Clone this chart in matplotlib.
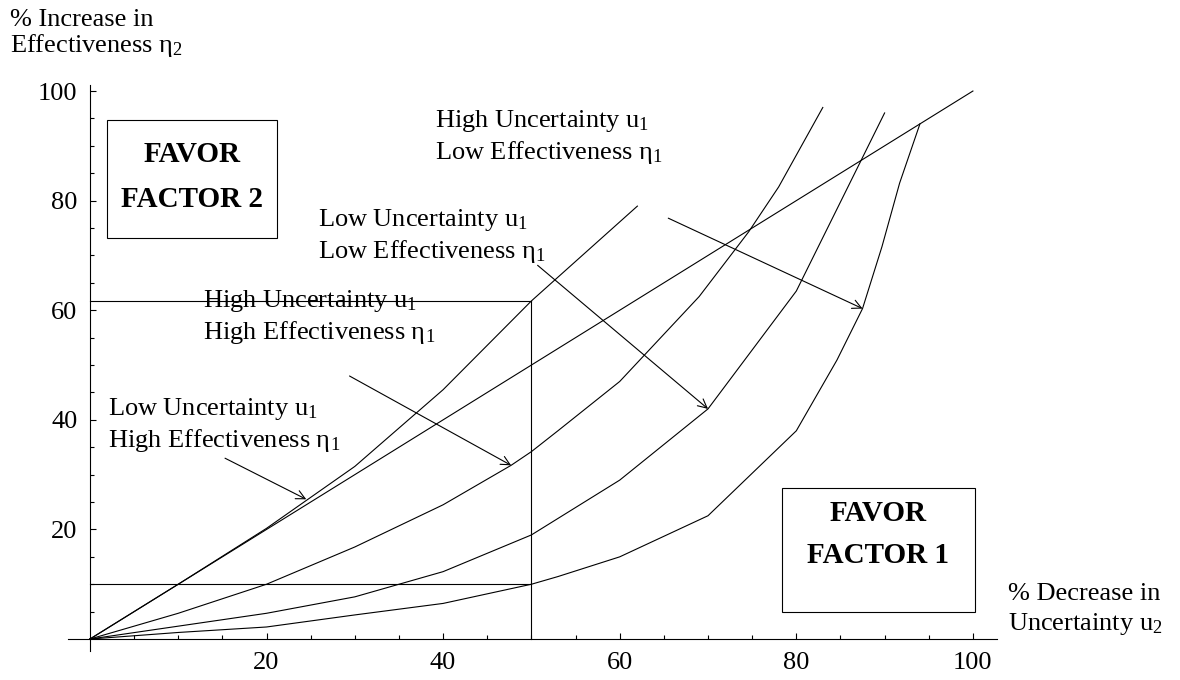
import numpy as np
import matplotlib.pyplot as plt
from matplotlib.patches import Rectangle

plt.rcParams['font.family'] = ['Liberation Serif', 'DejaVu Serif']
plt.rcParams['mathtext.fontset'] = 'custom'
plt.rcParams['mathtext.rm'] = 'Liberation Serif'
plt.rcParams['mathtext.it'] = 'Liberation Serif:italic'
plt.rcParams['mathtext.bf'] = 'Liberation Serif:bold'

# reference diagonal (equal percentages)
diag_x = [0, 100]
diag_y = [0, 100]

# low uncertainty u1, high effectiveness eta1
lh_x = [0, 10, 20, 30, 40, 50, 62]
lh_y = [0, 10, 20.2, 31.5, 45.5, 61.7, 79]

# high uncertainty u1, high effectiveness eta1
hh_x = [0, 10, 20, 30, 40, 47.7, 50, 53, 60, 69, 74.6, 78, 80, 83]
hh_y = [0, 4.7, 10, 16.8, 24.5, 31.7, 34.2, 38, 47, 62.5, 74.3, 82.5, 88.3, 97]

# low uncertainty u1, low effectiveness eta1
ll_x = [0, 20, 30, 40, 50, 60, 70, 80, 90]
ll_y = [0, 4.7, 7.7, 12.3, 19, 29, 42, 63.5, 96]

# high uncertainty u1, low effectiveness eta1
hl_x = [0, 10, 20, 30, 40, 50, 53, 60, 70, 80, 84.6, 87.5, 89.7, 91.7, 94]
hl_y = [0, 1.2, 2.2, 4.4, 6.5, 10, 11.4, 15, 22.5, 38, 50.9, 60.3, 71.6, 83.2, 94]

# worked example at 50% decrease in u2
ex_x = 50
ex_low = 10
ex_high = 61.7

xticks = [20, 40, 60, 80, 100]
yticks = [20, 40, 60, 80, 100]

fig = plt.figure(figsize=(11.8, 6.8), dpi=100)
ax = fig.add_axes([0.0575, 0.0425, 0.7872, 0.8325])
ax.set_xlim(-2.5, 102.7)
ax.set_ylim(-2.2, 101.1)

lw = 0.8
for xs, ys in [(diag_x, diag_y), (lh_x, lh_y), (hh_x, hh_y), (ll_x, ll_y), (hl_x, hl_y)]:
    ax.plot(xs, ys, color='black', lw=lw, clip_on=False)

ax.plot([0, ex_x], [ex_high, ex_high], color='black', lw=lw)
ax.plot([0, ex_x], [ex_low, ex_low], color='black', lw=lw)
ax.plot([ex_x, ex_x], [0, ex_high], color='black', lw=lw)

# axes through the origin, Mathematica style
for s in ['top', 'right']:
    ax.spines[s].set_visible(False)
for s in ['left', 'bottom']:
    ax.spines[s].set_position(('data', 0))
    ax.spines[s].set_linewidth(lw)
ax.set_xticks(xticks)
ax.set_yticks(yticks)
ax.set_xticks(np.arange(5, 101, 5), minor=True)
ax.set_yticks(np.arange(5, 101, 5), minor=True)
ax.tick_params(which='major', direction='in', length=4.5, width=lw, labelsize=19, pad=9)
ax.tick_params(which='minor', direction='in', length=2.8, width=lw)

fs = 19
arrow = dict(arrowstyle='->', lw=lw, color='black', shrinkA=0, shrinkB=0, mutation_scale=16)

ax.text(2.1, 40.9, 'Low Uncertainty u$_1$', fontsize=fs)
ax.text(2.1, 35.1, 'High Effectiveness η$_1$', fontsize=fs)
ax.annotate('', xy=(24.5, 25.5), xytext=(15.3, 33.0), arrowprops=arrow)

ax.text(12.8, 60.6, 'High Uncertainty u$_1$', fontsize=fs)
ax.text(12.8, 54.7, 'High Effectiveness η$_1$', fontsize=fs)
ax.annotate('', xy=(47.7, 31.7), xytext=(29.4, 48.0), arrowprops=arrow)

ax.text(25.8, 75.4, 'Low Uncertainty u$_1$', fontsize=fs)
ax.text(25.8, 69.5, 'Low Effectiveness η$_1$', fontsize=fs)
ax.annotate('', xy=(70, 42), xytext=(50.7, 68.2), arrowprops=arrow)

ax.text(39.1, 93.4, 'High Uncertainty u$_1$', fontsize=fs)
ax.text(39.1, 87.6, 'Low Effectiveness η$_1$', fontsize=fs)
ax.annotate('', xy=(87.5, 60.3), xytext=(65.5, 76.8), arrowprops=arrow)

# favour boxes
bold = dict(fontsize=21, fontweight='bold', ha='center', va='center')
ax.add_patch(Rectangle((1.9, 73.2), 19.3, 21.5, fill=False, lw=lw, clip_on=False))
ax.text(11.55, 88.5, 'FAVOR', **bold)
ax.text(11.55, 80.2, 'FACTOR 2', **bold)
ax.add_patch(Rectangle((78.4, 4.9), 21.8, 22.7, fill=False, lw=lw, clip_on=False))
ax.text(89.3, 23.0, 'FAVOR', **bold)
ax.text(89.3, 15.2, 'FACTOR 1', **bold)

# axis labels
fig.text(10 / 1180, 1 - 26 / 680, '% Increase in', fontsize=fs, va='baseline')
fig.text(10 / 1180, 1 - 52 / 680, 'Effectiveness η$_2$', fontsize=fs, va='baseline')
fig.text(1008 / 1180, 1 - 600 / 680, '% Decrease in', fontsize=fs, va='baseline')
fig.text(1008 / 1180, 1 - 630 / 680, 'Uncertainty u$_2$', fontsize=fs, va='baseline')

fig.savefig('out.png', dpi=100)
